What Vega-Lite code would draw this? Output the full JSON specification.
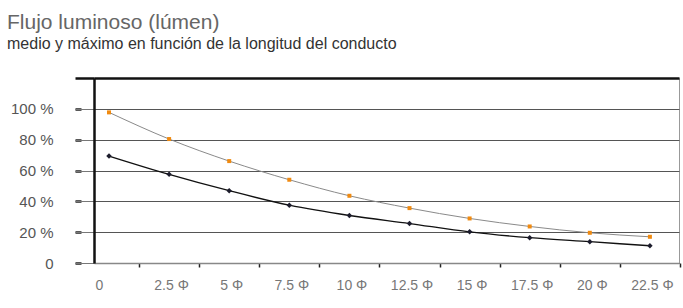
{
  "$schema": "https://vega.github.io/schema/vega-lite/v6.json",
  "width": 585,
  "height": 185,
  "autosize": {"type": "none"},
  "padding": {"left": 94, "top": 78, "right": 4, "bottom": 45},
  "background": "white",
  "config": {"view": {"stroke": "#999", "strokeWidth": 1}},
  "title": {
    "text": "Flujo luminoso (lúmen)",
    "subtitle": "medio y máximo en función de la longitud del conducto",
    "anchor": "start",
    "frame": "group",
    "dx": -87,
    "offset": 25,
    "font": "Liberation Sans",
    "fontSize": 21,
    "fontWeight": "normal",
    "color": "#666",
    "subtitleFont": "Liberation Sans",
    "subtitleFontSize": 16,
    "subtitleColor": "#333",
    "subtitlePadding": 3
  },
  "data": {
    "values": [
      {"d": 0, "serie": "máximo", "valor": 97.7},
      {"d": 2.5, "serie": "máximo", "valor": 80.4},
      {"d": 5, "serie": "máximo", "valor": 66.1},
      {"d": 7.5, "serie": "máximo", "valor": 54.0},
      {"d": 10, "serie": "máximo", "valor": 43.6},
      {"d": 12.5, "serie": "máximo", "valor": 35.6},
      {"d": 15, "serie": "máximo", "valor": 28.9},
      {"d": 17.5, "serie": "máximo", "valor": 23.7},
      {"d": 20, "serie": "máximo", "valor": 19.6},
      {"d": 22.5, "serie": "máximo", "valor": 17.0},
      {"d": 0, "serie": "medio", "valor": 69.4},
      {"d": 2.5, "serie": "medio", "valor": 57.5},
      {"d": 5, "serie": "medio", "valor": 46.9},
      {"d": 7.5, "serie": "medio", "valor": 37.5},
      {"d": 10, "serie": "medio", "valor": 30.8},
      {"d": 12.5, "serie": "medio", "valor": 25.6},
      {"d": 15, "serie": "medio", "valor": 20.2},
      {"d": 17.5, "serie": "medio", "valor": 16.4},
      {"d": 20, "serie": "medio", "valor": 13.8},
      {"d": 22.5, "serie": "medio", "valor": 11.2}
    ]
  },
  "resolve": {"axis": {"x": "independent", "y": "independent"}},
  "layer": [
    {
      "transform": [{"filter": "datum.serie == 'máximo'"}],
      "mark": {"type": "line", "color": "#8a8a8a", "strokeWidth": 1, "interpolate": "monotone"},
      "encoding": {
        "x": {
          "field": "d", "type": "quantitative",
          "scale": {"domain": [-0.624, 23.71], "nice": false, "zero": false},
          "axis": {
            "orient": "bottom", "title": null,
            "values": [0, 2.5, 5, 7.5, 10, 12.5, 15, 17.5, 20, 22.5],
            "format": ".1~f",
            "domainColor": "#888", "domainWidth": 1.5,
            "tickOffset": 30,
            "labelOffset": {"condition": {"test": "datum.value == 0", "value": -40}, "value": -28},
            "tickSize": 4, "tickColor": "#222", "tickWidth": 1.5,
            "labelPadding": 11,
            "labelExpr": "datum.value == 0 ? '0' : datum.label + ' Φ'",
            "labelFont": "Liberation Sans", "labelFontSize": 14, "labelColor": "#777",
            "grid": false
          }
        },
        "y": {
          "field": "valor", "type": "quantitative",
          "scale": {"domain": [0, 120], "nice": false},
          "axis": {
            "orient": "left", "title": null,
            "values": [0, 20, 40, 60, 80, 100],
            "offset": 41, "domain": false,
            "ticks": false, "tickSize": 0,
            "labelPadding": 0,
            "labelExpr": "datum.value == 0 ? '0' : datum.value + ' %'",
            "labelFont": "Liberation Sans", "labelFontSize": 15, "labelColor": "#555",
            "grid": true, "gridColor": "#555", "gridWidth": 1
          }
        }
      }
    },
    {
      "transform": [{"filter": "datum.serie == 'máximo'"}],
      "mark": {"type": "point", "shape": "square", "filled": true, "color": "#f08a10", "size": 16, "opacity": 1},
      "encoding": {
        "x": {"field": "d", "type": "quantitative", "axis": null},
        "y": {
          "field": "valor", "type": "quantitative",
          "axis": {
            "orient": "left", "title": null,
            "values": [0, 20, 40, 60, 80, 100],
            "offset": 13, "domain": false,
            "ticks": true, "tickSize": 6, "tickColor": "#222", "tickWidth": 2.5,
            "labels": false, "grid": false
          }
        }
      }
    },
    {
      "transform": [{"filter": "datum.serie == 'medio'"}],
      "mark": {"type": "line", "color": "#111", "strokeWidth": 1.3, "interpolate": "monotone"},
      "encoding": {
        "x": {
          "field": "d", "type": "quantitative",
          "axis": {"orient": "top", "title": null, "domain": true, "domainColor": "#111", "domainWidth": 2.5, "ticks": false, "labels": false, "grid": false}
        },
        "y": {
          "field": "valor", "type": "quantitative",
          "axis": {
            "orient": "left", "title": null,
            "values": [0, 20, 40, 60, 80, 100, 120],
            "domain": true, "domainColor": "#111", "domainWidth": 2.5,
            "ticks": true, "tickSize": 19,
            "tickColor": {"condition": {"test": "datum.value == 120", "value": "#111"}, "value": "#777"},
            "tickWidth": {"condition": {"test": "datum.value == 120", "value": 2.5}, "value": 1},
            "labels": false, "grid": false
          }
        }
      }
    },
    {
      "transform": [{"filter": "datum.serie == 'medio'"}],
      "mark": {"type": "point", "shape": "diamond", "filled": true, "color": "#1c1c2c", "size": 30, "opacity": 1},
      "encoding": {
        "x": {"field": "d", "type": "quantitative", "axis": null},
        "y": {"field": "valor", "type": "quantitative", "axis": null}
      }
    }
  ]
}
